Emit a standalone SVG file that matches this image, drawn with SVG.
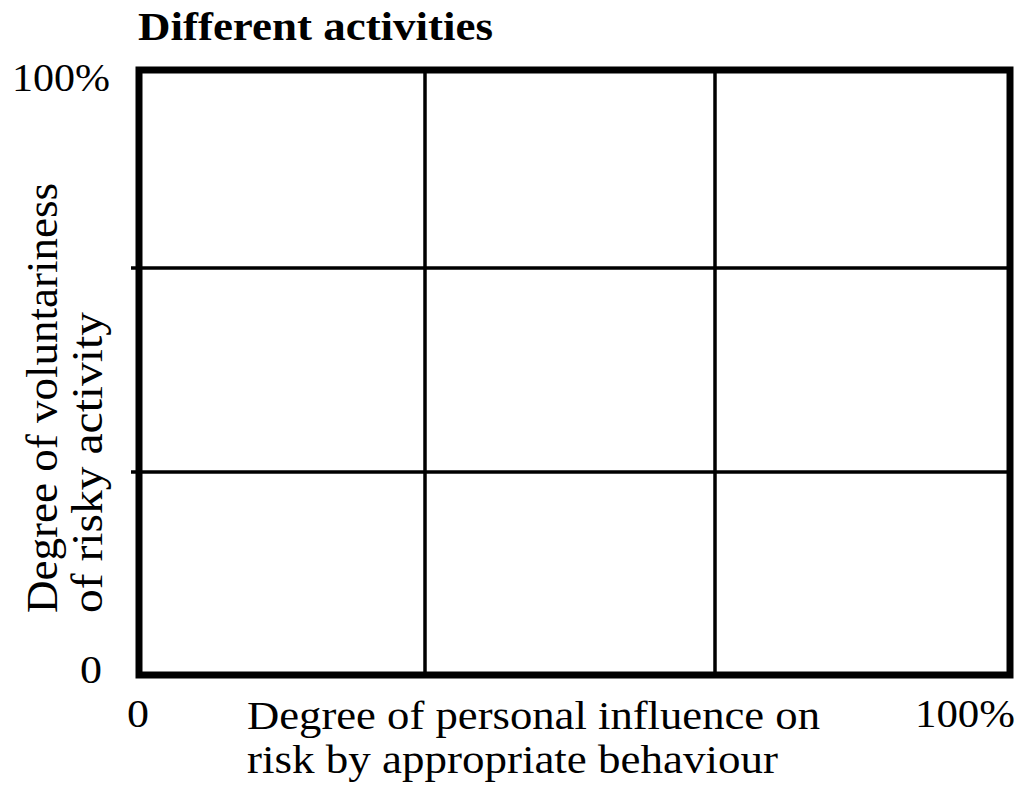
<svg xmlns="http://www.w3.org/2000/svg" width="1025" height="791" viewBox="0 0 1025 791">
<style>
.t{font-family:"Liberation Serif","Times New Roman",serif;font-size:40px;fill:#000}
.s{font-size:39px}
.r{font-size:44px}
.b{font-weight:bold}
.g{stroke:#000;fill:none;stroke-width:3.5}
</style>
<rect width="1025" height="791" fill="#fff"/>
<g id="grid">
<rect x="139" y="70" width="871" height="605" fill="none" stroke="#000" stroke-width="7"/>
<line class="g" x1="425" y1="70" x2="425" y2="675"/>
<line class="g" x1="715" y1="70" x2="715" y2="675"/>
<line class="g" x1="131" y1="268" x2="1010" y2="268"/>
<line class="g" x1="131" y1="472" x2="1010" y2="472"/>
</g>
<g id="labels">
<text class="t b" x="138" y="40" textLength="355" lengthAdjust="spacingAndGlyphs">Different activities</text>
<text class="t" x="12" y="91" textLength="98" lengthAdjust="spacingAndGlyphs">100%</text>
<text class="t" x="80" y="683" textLength="22" lengthAdjust="spacingAndGlyphs">0</text>
<text class="t" x="127" y="727" textLength="22" lengthAdjust="spacingAndGlyphs">0</text>
<text class="t" x="915" y="727" textLength="100" lengthAdjust="spacingAndGlyphs">100%</text>
<text class="t s" x="247" y="729" textLength="573" lengthAdjust="spacingAndGlyphs">Degree of personal influence on</text>
<text class="t s" x="247" y="773" textLength="531" lengthAdjust="spacingAndGlyphs">risk by appropriate behaviour</text>
<text class="t r" transform="translate(57,613) rotate(-90)" x="0" y="0" textLength="430" lengthAdjust="spacingAndGlyphs">Degree of voluntariness</text>
<text class="t r" transform="translate(102,613) rotate(-90)" x="0" y="0" textLength="301" lengthAdjust="spacingAndGlyphs">of risky activity</text>
</g>
</svg>
